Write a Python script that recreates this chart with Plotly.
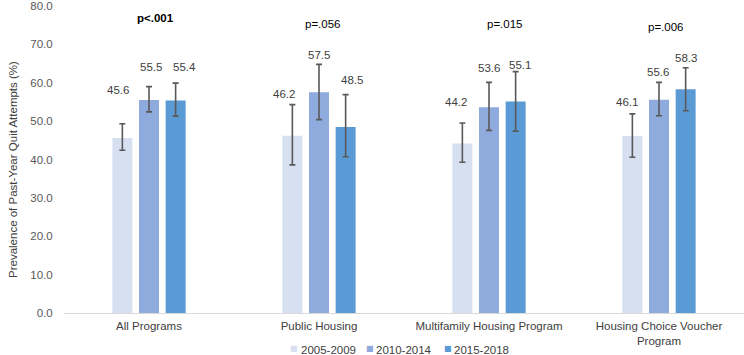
import plotly.graph_objects as go

# ---------------- data ----------------
categories = ["All Programs", "Public Housing", "Multifamily Housing Program",
              "Housing Choice Voucher<br>Program"]
series_names = ["2005-2009", "2010-2014", "2015-2018"]

prev_2005_2009 = [45.6, 46.2, 44.2, 46.1]
prev_2010_2014 = [55.5, 57.5, 53.6, 55.6]
prev_2015_2018 = [55.4, 48.5, 55.1, 58.3]

ci_low_2005_2009 = [42.4, 38.6, 39.3, 40.6]
ci_high_2005_2009 = [49.3, 54.3, 49.5, 51.9]
ci_low_2010_2014 = [52.4, 50.4, 47.6, 51.4]
ci_high_2010_2014 = [59.0, 64.8, 60.1, 60.1]
ci_low_2015_2018 = [51.3, 40.7, 47.4, 52.7]
ci_high_2015_2018 = [59.9, 56.9, 62.9, 63.9]

p_values = ["<b>p<.001</b>", "p=.056", "p=.015", "p=.006"]
y_ticks = [0, 10, 20, 30, 40, 50, 60, 70, 80]

# ---------------- styling / layout tuning ----------------
colors = ["#D6E0F1", "#8FAADC", "#5B9BD5"]
err_color = "#595959"
font_family = "Arial, Liberation Sans, sans-serif"
fs = 11.5

# label placement (data-unit heights, pixel nudges)
label_y = [[58.0, 57.0, 54.9, 55.1],
           [64.2, 67.3, 63.9, 62.9],
           [64.2, 60.8, 64.7, 66.5]]
label_dx = [[-4, -8, -6, -5],
            [2, 0, 0, -1.5],
            [9, 6, 4.5, 0]]
p_y = [77.0, 75.2, 75.2, 74.4]
p_dx = [6, 4, 16, 6.5]

W, H = 744, 355
ML, MR, MT, MB = 64, 0, 6, 42
plot_w = W - ML - MR
plot_h = H - MT - MB
bargap = 0.53
bargroupgap = 0.25
slot_px = plot_w / len(categories) * (1 - bargap) / 3

# legend item placement (pixels in the figure)
legend_square_px = [294, 370, 448]
legend_text_px = [299, 374, 452]
legend_y_px = 349.5

values = [prev_2005_2009, prev_2010_2014, prev_2015_2018]
lows = [ci_low_2005_2009, ci_low_2010_2014, ci_low_2015_2018]
highs = [ci_high_2005_2009, ci_high_2010_2014, ci_high_2015_2018]

fig = go.Figure()
for s in range(3):
    vals = values[s]
    fig.add_trace(go.Bar(
        x=categories, y=vals, name=series_names[s],
        marker=dict(color=colors[s], line=dict(width=0)),
        error_y=dict(type="data", symmetric=False,
                     array=[h - v for h, v in zip(highs[s], vals)],
                     arrayminus=[v - l for v, l in zip(vals, lows[s])],
                     color=err_color, thickness=1.6, width=3),
        showlegend=False,
    ))

annotations = []
for s in range(3):
    for i, c in enumerate(categories):
        annotations.append(dict(
            x=c, y=label_y[s][i], xref="x", yref="y",
            text=f"{values[s][i]:.1f}", showarrow=False,
            xshift=(s - 1) * slot_px + label_dx[s][i],
            font=dict(size=fs, color="#404040", family=font_family),
        ))
for i, c in enumerate(categories):
    annotations.append(dict(
        x=c, y=p_y[i], xref="x", yref="y", text=p_values[i], showarrow=False,
        xshift=p_dx[i], font=dict(size=fs, color="#000000", family=font_family),
    ))
annotations.append(dict(
    x=0, y=(plot_h + MT - 170) / plot_h, xref="paper", yref="paper",
    text="Prevalence of Past-Year Quit Attempts (%)", textangle=-90,
    showarrow=False, xanchor="center", yanchor="middle", xshift=-51,
    font=dict(size=fs, color="#404040", family=font_family),
))

# legend drawn as text: small coloured square + series name
ly = (plot_h + MT - legend_y_px) / plot_h
for s in range(3):
    annotations.append(dict(
        x=(legend_square_px[s] - ML) / plot_w, y=ly, xref="paper", yref="paper",
        text="■", showarrow=False, xanchor="center", yanchor="middle",
        yshift=1,
        font=dict(size=8, color=colors[s], family="DejaVu Sans"),
    ))
    annotations.append(dict(
        x=(legend_text_px[s] - ML) / plot_w, y=ly, xref="paper", yref="paper",
        text=series_names[s], showarrow=False, xanchor="left", yanchor="middle",
        font=dict(size=fs, color="#404040", family=font_family),
    ))

fig.update_layout(
    width=W, height=H,
    margin=dict(l=ML, r=MR, t=MT, b=MB, autoexpand=False),
    paper_bgcolor="white", plot_bgcolor="white",
    barmode="group", bargap=bargap, bargroupgap=bargroupgap,
    font=dict(family=font_family, size=fs, color="#404040"),
    annotations=annotations,
    showlegend=False,
    xaxis=dict(showline=True, linecolor="#D9D9D9", linewidth=1,
               showgrid=False, ticks="outside", ticklen=2,
               tickcolor="rgba(0,0,0,0)", automargin=False,
               tickfont=dict(size=fs, color="#404040")),
    yaxis=dict(range=[0, 80], tickvals=y_ticks, tickformat=".1f",
               showgrid=False, zeroline=False, showline=False,
               ticks="outside", ticklen=8, tickcolor="rgba(0,0,0,0)",
               ticklabeloverflow="allow",
               automargin=False, tickfont=dict(size=fs, color="#595959")),
)

fig.write_html("out.html",
               config={"displayModeBar": False},
               post_script="document.body.style.margin='0';"
                           "document.body.style.overflow='hidden';")
